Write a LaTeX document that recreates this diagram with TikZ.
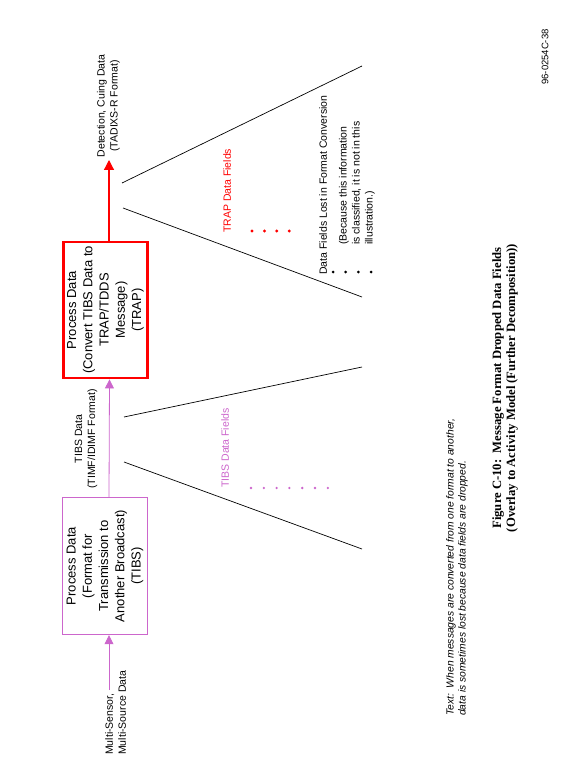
\documentclass[tikz,border=0pt]{standalone}
\usepackage{fontspec}
\setmainfont{Liberation Sans}
\newfontfamily\capfont{Liberation Serif}
\usetikzlibrary{arrows.meta}
\definecolor{tibsviolet}{RGB}{204,102,204}
\definecolor{trapred}{RGB}{255,0,0}

\begin{document}
\begin{tikzpicture}[x=1pt,y=-1pt]
\tikzstyle{tibsbox}=[rectangle,draw=tibsviolet,line width=1.4pt,rotate=90,minimum width=137pt,minimum height=85pt,align=center,inner sep=0pt,font=\fontsize{13}{16.3}\selectfont]
\tikzstyle{trapbox}=[tibsbox,draw=trapred,line width=2.8pt,minimum width=136pt,minimum height=84.5pt]
\tikzstyle{lbl}=[rotate=90,inner sep=0pt,font=\fontsize{10.5}{13}\selectfont]
\tikzstyle{field}=[lbl,anchor=west]
\tikzstyle{funnel}=[line width=0.7pt]
\useasboundingbox (0,0) rectangle (575,775);
% the two processes
\node [tibsbox] (tibs) at (105,566) {Process Data\\(Format for\\Transmission to\\Another Broadcast)\\(TIBS)};
\node [trapbox] (trap) at (105.5,310) {Process Data\\(Convert TIBS Data to\\TRAP/TDDS\\Message)\\(TRAP)};
% flows
\coordinate (src) at (109,690);
\coordinate (det) at (109,160);
\node [lbl,align=left,anchor=west] (srclbl) at (115.5,755) {Multi-Sensor,\\Multi-Source Data};
\draw [tibsviolet,line width=0.8pt,-{Triangle[width=9pt,length=9pt]}] (src) -- (src |- tibs.west);
\draw [tibsviolet,line width=0.8pt,-{Triangle[width=9pt,length=9pt]}] ([xshift=4pt]tibs.east) -- ([xshift=4pt]trap.west);
\node [lbl,align=center] (tibsdata) at (86,439) {TIBS Data\\(TIMF/IDIMF Format)};
\draw [trapred,line width=1.2pt,-{Triangle[width=10pt,length=10pt]}] ([xshift=3.5pt]trap.east) -- (det);
\node [lbl,align=center] (detect) at (108.5,106) {Detection, Cuing Data\\(TADIXS-R Format)};
% data fields
\draw [funnel] (124,417) -- (362,367);
\draw [funnel] (124,462) -- (362,549);
\draw [funnel] (122,183) -- (362,66);
\draw [funnel] (123,208) -- (362,297);
\node [field,text=tibsviolet] (tibsfld) at (225,488) {TIBS Data Fields};
\foreach \i in {0,...,6} \fill [tibsviolet] (251+12.8*\i,488) circle (1.3pt);
\node [field,text=trapred] (trapfld) at (227,233) {TRAP Data Fields};
\foreach \i in {0,...,3} \fill [trapred] (252+12.4*\i,231) circle (1.6pt);
\node [field] (lostfld) at (323,275) {Data Fields Lost in Format Conversion};
\foreach \i in {0,...,3} \fill (333+12.7*\i,272) circle (1.5pt);
\node [field,align=left] (note) at (357,245) {(Because this information\\is classified, it is not in this\\illustration.)};
% text and caption
\node [field,align=left,font=\fontsize{10.3}{12}\selectfont\itshape] (remark) at (457,716) {Text:\ \ When messages are converted from one format to another,\\data is sometimes lost because data fields are dropped.};
\node [rotate=90,inner sep=0pt,align=center,font=\capfont\bfseries\fontsize{12.7}{14}\selectfont] (cap) at (505,388) {Figure C-10:\ \ Message Format Dropped Data Fields\\(Overlay to Activity Model (Further Decomposition))};
\node [lbl,font=\fontsize{9.5}{11}\selectfont] (figid) at (545,57) {96-0254C-38};
\end{tikzpicture}
\end{document}
